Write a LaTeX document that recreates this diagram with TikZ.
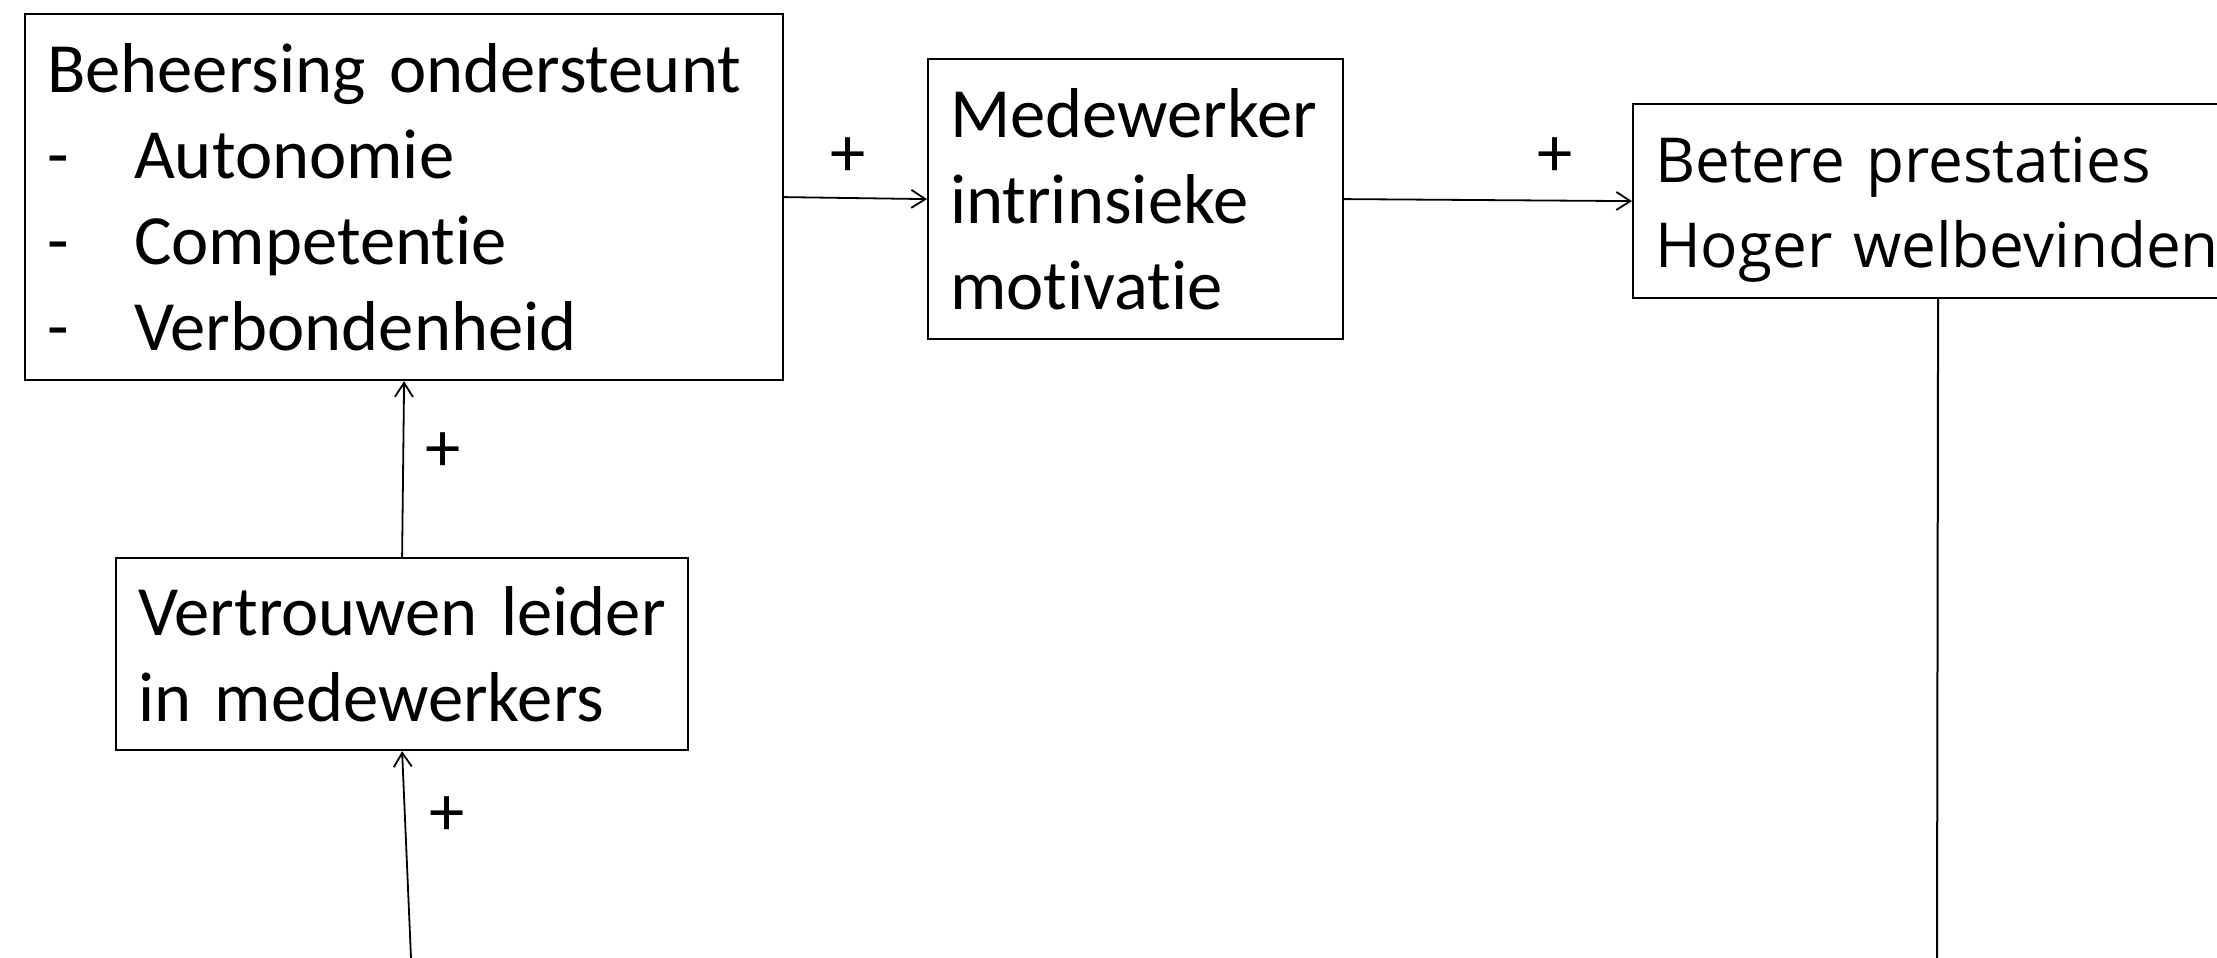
\documentclass[tikz,border=0pt]{standalone}
\usepackage{fontspec}
\setmainfont[RawFeature={-liga;-clig;-dlig}]{Carlito}
\newfontfamily\altfont{Open Sans}
\usetikzlibrary{arrows.meta}
\hyphenpenalty=10000
\exhyphenpenalty=10000
\begin{document}
\begin{tikzpicture}[x=0.5pt,y=-0.5pt,
  box/.style={draw, line width=1.1pt, inner xsep=11pt, inner ysep=0pt, align=left, anchor=north west,
    font=\fontsize{35.3}{42.9}\selectfont},
  conn/.style={line width=0.9pt, -{Straight Barb[length=7pt,width=9pt]}},
  plain/.style={line width=1pt},
  lbl/.style={font=\fontsize{35.3}{42.9}\selectfont, inner sep=0pt}]
\useasboundingbox (0,0) rectangle (2217,958);
\fill[white] (0,0) rectangle (2217,958);
\node[box, text width=357pt, minimum height=183pt] (b1) at (24,13)
  {Beheersing ondersteunt\\
   \makebox[43.5pt][l]{-}Autonomie\\
   \makebox[43.5pt][l]{-}Competentie\\
   \makebox[43.5pt][l]{-}Verbondenheid};
\node[box, text width=185.5pt, minimum height=140pt] (b2) at (927,58)
  {Medewerker\\intrinsieke\\motivatie};
\node[box, text width=283pt, minimum height=97pt, font=\altfont\fontsize{31}{42.5}\selectfont] (b3) at (1632,103)
  {\rule{0pt}{31pt}Betere prestaties\\Hoger welbevinden};
\node[box, text width=264pt, minimum height=96pt] (b4) at (115,557)
  {Vertrouwen leider\\in medewerkers};
\coordinate (s4) at (411,958);
\coordinate (e3) at (1937,958);
\draw[conn] (b1.east) -- (b2.west);
\draw[conn] (b2.east) -- (b3.west);
\draw[conn] (b4.north) -- (b1.south);
\draw[conn] (s4) -- (b4.south);
\draw[plain] (b3.south) -- (e3);
\node[lbl] (p1) at (848,157) {+};
\node[lbl] (p2) at (1555,157) {+};
\node[lbl] (p3) at (443,452) {+};
\node[lbl] (p4) at (447,816) {+};
\end{tikzpicture}
\end{document}
